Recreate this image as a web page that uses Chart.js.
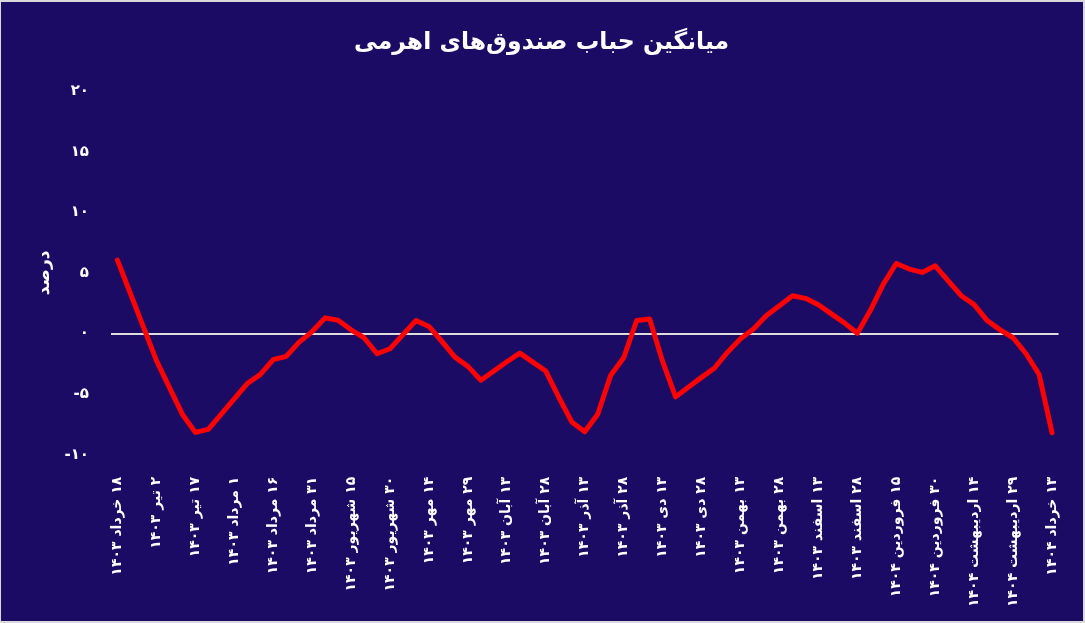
<!DOCTYPE html>
<html>
<head>
  <meta charset="utf-8">
  <title>میانگین حباب صندوق‌های اهرمی</title>
  <style>
    body { margin: 0; background: #d9d9d9; }
    #chart { position: absolute; left: 1px; top: 2px; background: #1b0b64; }
  </style>
</head>
<body>
<script src="https://cdn.jsdelivr.net/npm/chart.js@4.4.0/dist/chart.umd.min.js"></script>
<canvas id="chart" width="1082" height="619"></canvas>
<script>
  // tick labels shown on the x axis (one every third point)
  var tickLabels = [
    '۱۸ خرداد ۱۴۰۳', '۲ تیر ۱۴۰۳', '۱۷ تیر ۱۴۰۳', '۱ مرداد ۱۴۰۳', '۱۶ مرداد ۱۴۰۳',
    '۳۱ مرداد ۱۴۰۳', '۱۵ شهریور ۱۴۰۳', '۳۰ شهریور ۱۴۰۳', '۱۴ مهر ۱۴۰۳', '۲۹ مهر ۱۴۰۳',
    '۱۳ آبان ۱۴۰۳', '۲۸ آبان ۱۴۰۳', '۱۳ آذر ۱۴۰۳', '۲۸ آذر ۱۴۰۳', '۱۳ دی ۱۴۰۳',
    '۲۸ دی ۱۴۰۳', '۱۳ بهمن ۱۴۰۳', '۲۸ بهمن ۱۴۰۳', '۱۳ اسفند ۱۴۰۳', '۲۸ اسفند ۱۴۰۳',
    '۱۵ فروردین ۱۴۰۴', '۳۰ فروردین ۱۴۰۴', '۱۴ اردیبهشت ۱۴۰۴', '۲۹ اردیبهشت ۱۴۰۴', '۱۳ خرداد ۱۴۰۴'
  ];

  // average bubble (percent), one value every 5 days
  var bubble = [
    6.06, 3.3, 0.55, -2.22, -4.44, -6.66, -8.16, -7.91, -6.66, -5.39,
    -4.13, -3.39, -2.16, -1.89, -0.71, 0.16, 1.29, 1.1, 0.3, -0.35,
    -1.67, -1.26, -0.09, 1.07, 0.58, -0.66, -1.95, -2.71, -3.86, -3.1,
    -2.33, -1.62, -2.36, -3.1, -5.26, -7.3, -8.11, -6.66, -3.45, -2.0,
    1.07, 1.2, -2.3, -5.23, -4.41, -3.62, -2.85, -1.54, -0.44, 0.38,
    1.48, 2.3, 3.12, 2.9, 2.38, 1.62, 0.88, 0.02, 1.89, 4.08,
    5.78, 5.32, 5.04, 5.59, 4.35, 3.12, 2.38, 1.07, 0.3, -0.35,
    -1.67, -3.37, -8.19
  ];

  var yTicks = [-10, -5, 0, 5, 10, 15, 20];

  // category per data point, label only on every third one
  var categories = [];
  for (var i = 0; i < bubble.length; i++) {
    categories.push(i % 3 === 0 ? tickLabels[i / 3] : '');
  }

  function toFa(n) {
    return String(n).replace(/[0-9]/g, function(d) { return '۰۱۲۳۴۵۶۷۸۹'[d]; });
  }

  var FONT = "'DejaVu Sans', sans-serif";

  new Chart(document.getElementById('chart'), {
    type: 'line',
    data: {
      labels: categories,
      datasets: [{
        label: 'حباب',
        data: bubble,
        borderColor: '#ff0000',
        borderWidth: 5,
        borderJoinStyle: 'round',
        borderCapStyle: 'round',
        pointRadius: 0,
        tension: 0,
        fill: false
      }]
    },
    options: {
      responsive: false,
      animation: false,
      layout: { padding: { left: 21, right: 22, top: 10, bottom: 0 } },
      plugins: {
        legend: { display: false },
        tooltip: { enabled: false },
        title: {
          display: true,
          text: 'میانگین حباب صندوق‌های اهرمی',
          color: '#ffffff',
          font: { family: FONT, size: 23.5, weight: 'bold' },
          padding: { top: 17, bottom: 34 }
        }
      },
      scales: {
        x: {
          offset: true,
          grid: { display: false },
          border: { display: false },
          ticks: {
            autoSkip: false,
            minRotation: 90,
            maxRotation: 90,
            padding: 14,
            color: '#ffffff',
            font: { family: FONT, size: 14, weight: 'bold' },
            callback: function(v, idx) {
              var s = categories[idx];
              return s ? '\u200F' + s : '';
            }
          }
        },
        y: {
          min: -10,
          max: 20,
          afterBuildTicks: function(scale) {
            scale.ticks = yTicks.map(function(v) { return { value: v }; });
          },
          border: { display: false },
          grid: {
            drawTicks: false,
            lineWidth: 2,
            color: function(ctx) { return ctx.tick && ctx.tick.value === 0 ? '#dcdcdc' : 'transparent'; }
          },
          ticks: {
            padding: 22,
            color: '#ffffff',
            font: { family: FONT, size: 15, weight: 'bold' },
            callback: function(v) { return toFa(v); }
          },
          title: {
            display: true,
            text: 'درصد',
            color: '#ffffff',
            font: { family: FONT, size: 17, weight: 'bold' },
            padding: { top: 12, bottom: -12 }
          }
        }
      }
    }
  });
</script>
</body>
</html>
